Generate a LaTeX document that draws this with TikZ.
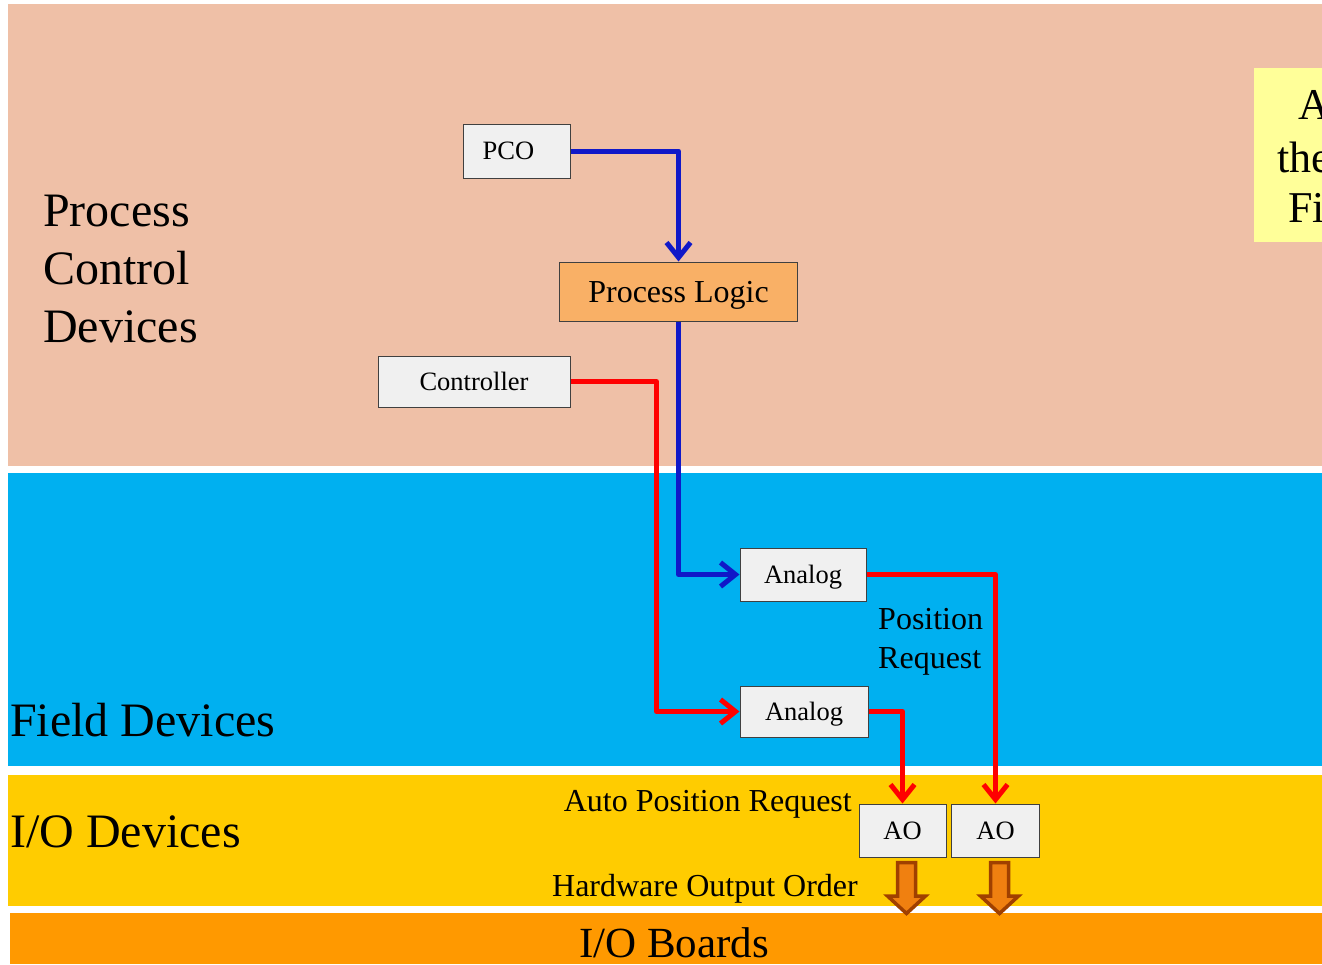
\documentclass[tikz,border=0pt]{standalone}
\usepackage{fontspec}
\setmainfont{Liberation Serif}
\usetikzlibrary{arrows.meta}
\definecolor{bandpeach}{HTML}{EFC0A7}
\definecolor{bandblue}{HTML}{00B0F0}
\definecolor{bandyellow}{HTML}{FFCC00}
\definecolor{bandorange}{HTML}{FF9900}
\definecolor{notebg}{HTML}{FFFF99}
\definecolor{boxfill}{HTML}{F0F0F0}
\definecolor{boxline}{HTML}{404040}
\definecolor{logicfill}{HTML}{F9B066}
\definecolor{flowblue}{HTML}{1018C8}
\definecolor{flowred}{HTML}{FF0000}
\definecolor{hwfill}{HTML}{F08010}
\definecolor{hwline}{HTML}{A04000}
\tikzset{
  devbox/.style={draw=boxline, line width=1pt, fill=boxfill, inner sep=0pt,
    text depth=0pt, font=\fontsize{26.5}{31}\selectfont},
  logicbox/.style={devbox, fill=logicfill, font=\fontsize{32}{37}\selectfont},
  flow/.style={line width=5pt, line join=round,
    -{Straight Barb[length=15pt,width=24pt,line width=5pt]}},
  bluefl/.style={flow, draw=flowblue},
  redfl/.style={flow, draw=flowred},
  bigtxt/.style={inner sep=0pt, font=\fontsize{48}{58}\selectfont},
  midtxt/.style={inner sep=0pt, font=\fontsize{32}{39}\selectfont},
  hwarrow/.style={fill=hwfill, draw=hwline, line width=3.5pt, line join=miter},
}
\begin{document}
\begin{tikzpicture}[x=1pt, y=-1pt]
  \useasboundingbox (0,0) rectangle (1322,964);
  \fill[white] (0,0) rectangle (1322,964);

  % layer bands
  \fill[bandpeach]  (8,4)    rectangle (1322,466);
  \fill[bandblue]   (8,473)  rectangle (1322,766);
  \fill[bandyellow] (8,775)  rectangle (1322,906);
  \fill[bandorange] (10,913) rectangle (1322,964);

  % side note, running on past the right edge
  \begin{scope}
    \clip (0,0) rectangle (1322,964);
    \fill[notebg] (1254,68) rectangle (1322,242);
    \node[anchor=west, inner sep=0pt, font=\fontsize{44}{51}\selectfont] (noteA) at (1298,105) {A};
    \node[anchor=west, inner sep=0pt, font=\fontsize{44}{51}\selectfont] (noteB) at (1277,157) {the};
    \node[anchor=west, inner sep=0pt, font=\fontsize{44}{51}\selectfont] (noteC) at (1288,208) {Fi};
  \end{scope}

  % layer titles
  \node[bigtxt, anchor=west, align=left] (pcdev) at (43,269) {Process\\Control\\Devices};
  \node[bigtxt, anchor=west] (fielddev) at (10,720) {Field Devices};
  \node[bigtxt, anchor=west] (iodev) at (10,832) {I/O Devices};
  \node[inner sep=0pt, font=\fontsize{43}{50}\selectfont] (ioboards) at (674,943) {I/O Boards};

  % blocks
  \node[devbox, minimum width=107pt, minimum height=54pt, text depth=0pt] (pco) at (516.5,151) {\hspace*{-16pt}PCO};
  \node[logicbox, minimum width=238pt, minimum height=59pt] (logic) at (678.5,291.5) {Process Logic};
  \node[devbox, minimum width=192pt, minimum height=51pt] (ctrl) at (474,381.5) {Controller};
  \node[devbox, minimum width=126pt, minimum height=53pt] (an1) at (803,574.5) {Analog};
  \node[devbox, minimum width=128pt, minimum height=51pt] (an2) at (804,711.5) {Analog};
  \node[devbox, minimum width=87pt, minimum height=53pt] (ao1) at (902.5,830.5) {AO};
  \node[devbox, minimum width=88pt, minimum height=53pt] (ao2) at (995.5,830.5) {AO};

  % labels
  \node[midtxt, anchor=west, align=left] (posreq) at (878,642) {Position\\Request};
  \node[midtxt, anchor=east] (autoreq) at (852,804) {Auto Position Request};
  \node[midtxt, anchor=east] (hwout) at (858,889) {Hardware Output Order};

  % signal flow
  \draw[bluefl] (pco.east) -| (logic.north);
  \draw[bluefl] (logic.south) |- (an1.west);
  \draw[redfl] (ctrl.east) -- ++(86,0) |- (an2.west);
  \draw[redfl] (an1.east) -| (ao2.north);
  \draw[redfl] (an2.east) -| (ao1.north);

  % hardware outputs towards the boards
  \foreach \src in {ao1,ao2} {
    \path[hwarrow, shift={(\src.south)}, xshift=4pt]
      (-9,5) -- (9,5) -- (9,38.5) -- (19,38.5) -- (0,56) -- (-19,38.5) -- (-9,38.5) -- cycle;
  }
\end{tikzpicture}
\end{document}
